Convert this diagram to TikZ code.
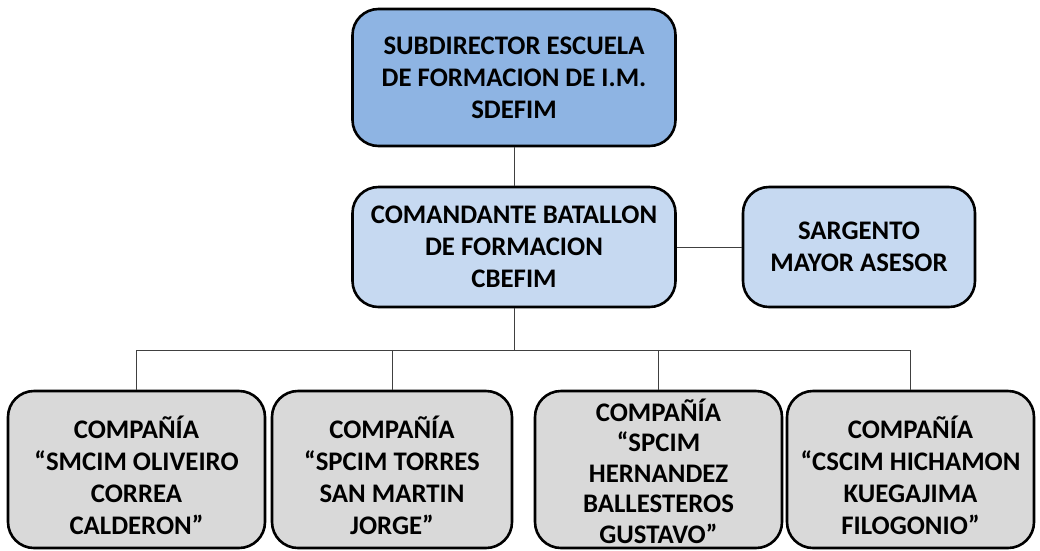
\documentclass[tikz,border=0pt]{standalone}
\usepackage{fontspec}
\setmainfont{Carlito}
\begin{document}
\begin{tikzpicture}[x=1pt,y=-1pt,
  box/.style={draw=black,line width=2.6pt,rounded corners=26pt,align=center,inner sep=0pt,
    font=\fontsize{26.8}{32}\selectfont\bfseries},
  conn/.style={draw=black!75,line width=1pt}]
\useasboundingbox (0,0) rectangle (1040,550);
\definecolor{topblue}{HTML}{8EB4E3}
\definecolor{lightblue}{HTML}{C6D9F1}
\definecolor{lightgray}{HTML}{D9D9D9}
\newcommand{\dn}{\rule{0pt}{34pt}}
\node[box,fill=topblue,minimum width=323pt,minimum height=137pt] (top) at (514,77.5)
  {SUBDIRECTOR ESCUELA\\DE FORMACION DE I.M.\\SDEFIM};
\node[box,fill=lightblue,minimum width=323pt,minimum height=120pt] (mid) at (514,247)
  {COMANDANTE BATALLON\\DE FORMACION\\CBEFIM};
\node[box,fill=lightblue,minimum width=232pt,minimum height=120pt] (sgt) at (859,247)
  {SARGENTO\\MAYOR ASESOR};
\node[box,fill=lightgray,minimum width=257pt,minimum height=157pt] (c1) at (136.5,469.5)
  {\dn COMPAÑÍA\\“SMCIM OLIVEIRO\\CORREA\\CALDERON”};
\node[box,fill=lightgray,minimum width=240pt,minimum height=157pt] (c2) at (392,469.5)
  {\dn COMPAÑÍA\\“SPCIM TORRES\\SAN MARTIN\\JORGE”};
\node[box,fill=lightgray,minimum width=247pt,minimum height=157pt,
  font=\fontsize{26.8}{30.5}\selectfont\bfseries] (c3) at (658.5,469.5)
  {\rule{0pt}{26pt}COMPAÑÍA\\“SPCIM\\HERNANDEZ\\BALLESTEROS\\GUSTAVO”};
\node[box,fill=lightgray,minimum width=247pt,minimum height=157pt] (c4) at (910.5,469.5)
  {\dn COMPAÑÍA\\“CSCIM HICHAMON\\KUEGAJIMA\\FILOGONIO”};
\coordinate (bus) at (514,350);
\draw[conn] (top.south) -- (mid.north);
\draw[conn] (mid.east) -- (sgt.west);
\draw[conn] (mid.south) -- (bus);
\draw[conn] (bus) -| (c1.north);
\draw[conn] (bus) -| (c2.north);
\draw[conn] (bus) -| (c3.north);
\draw[conn] (bus) -| (c4.north);
\end{tikzpicture}
\end{document}
